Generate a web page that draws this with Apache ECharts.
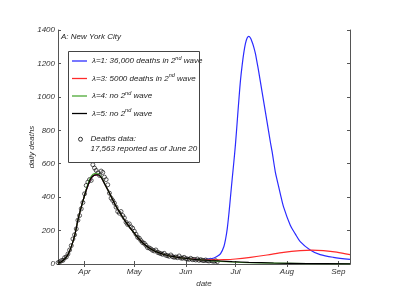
<!DOCTYPE html>
<html>
<head>
<meta charset="utf-8">
<script src="https://cdn.jsdelivr.net/npm/echarts@6/dist/echarts.min.js"></script>
<style>html,body{margin:0;padding:0;background:#fff}#c{width:395px;height:305px}</style>
</head>
<body>
<div id="c"></div>
<script>
// ---- data ----
const obsStart = '2020-03-16';
// daily reported deaths, one value per day from Mar 16 to Jun 20
const observedDeaths = [8,12,20,22,38,42,60,84,110,150,175,210,262,290,330,368,420,470,490,505,500,
  594,574,560,545,530,556,548,520,505,474,424,394,380,364,340,314,304,314,290,276,
  250,236,240,222,214,196,178,160,154,140,128,124,112,98,96,90,82,78,84,70,
  66,62,58,64,52,50,46,54,44,40,42,38,48,36,34,40,32,30,28,34,
  26,28,24,30,22,26,22,20,24,20,18,22,18,16,20,14];
// shared first wave of the model (to Jun 10)
const firstWave = [['2020-03-16',5],['2020-03-18',14],['2020-03-20',30],['2020-03-22',56],['2020-03-24',104],
  ['2020-03-26',168],['2020-03-28',262],['2020-03-30',340],['2020-04-01',410],['2020-04-03',470],
  ['2020-04-05',515],['2020-04-07',532],['2020-04-09',534],['2020-04-11',518],['2020-04-13',482],
  ['2020-04-15',444],['2020-04-17',404],['2020-04-19',364],['2020-04-21',328],['2020-04-23',296],
  ['2020-04-25',264],['2020-04-28',222],['2020-05-01',184],['2020-05-04',148],['2020-05-07',118],
  ['2020-05-10',96],['2020-05-14',74],['2020-05-18',60],['2020-05-22',48],['2020-05-26',42],
  ['2020-05-30',36],['2020-06-04',30],['2020-06-10',25]];
// lambda=4 slightly different first wave peak
const greenPeak = [['2020-04-03',478],['2020-04-05',524],['2020-04-07',541],['2020-04-09',539],['2020-04-11',521]];
const blueWave = [['2020-06-14',28],['2020-06-18',36],['2020-06-20',46],['2020-06-22',62],['2020-06-24',105],
  ['2020-06-25',148],['2020-06-26',210],['2020-06-27',300],['2020-06-28',405],['2020-06-29',510],
  ['2020-06-30',612],['2020-07-01',720],['2020-07-02',850],['2020-07-03',980],['2020-07-04',1100],
  ['2020-07-05',1190],['2020-07-06',1265],['2020-07-07',1320],['2020-07-08',1352],['2020-07-09',1362],
  ['2020-07-10',1352],['2020-07-11',1328],['2020-07-12',1298],['2020-07-13',1258],['2020-07-14',1205],
  ['2020-07-15',1150],['2020-07-17',1030],['2020-07-18',970],['2020-07-20',850],['2020-07-22',730],
  ['2020-07-23',675],['2020-07-25',550],['2020-07-26',505],['2020-07-28',420],['2020-07-30',340],
  ['2020-08-03',232],['2020-08-06',180],['2020-08-09',134],['2020-08-15',84],['2020-08-21',56],
  ['2020-08-29',40],['2020-09-08',28]];
const redWave = [['2020-06-16',25],['2020-06-24',26],['2020-07-01',30],['2020-07-10',40],['2020-07-20',54],
  ['2020-07-30',70],['2020-08-09',80],['2020-08-16',83],['2020-08-23',80],['2020-08-31',71],['2020-09-08',56]];
const blackTail = [['2020-06-16',21],['2020-06-22',18],['2020-06-29',14],['2020-07-09',10],['2020-07-24',6],
  ['2020-08-13',3],['2020-09-08',1]];
const greenTail = [['2020-06-16',20],['2020-06-22',16],['2020-06-29',12],['2020-07-09',8],['2020-07-24',5],
  ['2020-08-13',2],['2020-09-08',1]];
const tickDates = ['2020-04-01','2020-05-01','2020-06-01','2020-07-01','2020-08-01','2020-09-01'];
const tickLabels = ['Apr','May','Jun','Jul','Aug','Sep'];
const xRange = ['2020-03-16','2020-09-08'];

// ---- build ----
const DAY = 86400000;
const t = s => Date.parse(s + 'T00:00:00Z');
const pts = arr => arr.map(p => [t(p[0]), p[1]]);
const obsPts = observedDeaths.map((v, i) => [t(obsStart) + i * DAY, v]);
const greenFirst = firstWave.map(p => { const g = greenPeak.find(q => q[0] === p[0]); return g ? g : p; });
const tickVals = tickDates.map(t);
const font = 'Liberation Sans, Arial, sans-serif';
const axisCol = '#555';
const txt = '#333';
const lineIcon = 'path://M0,0 L14,0 L14,1.2 L0,1.2 Z';

const chart = echarts.init(document.getElementById('c'), null, {renderer: 'canvas'});
const sup = (a, b) => '{t|' + a + '}{s|nd}{t|' + b + '}';
const baseX = {
  type: 'value', min: t(xRange[0]), max: t(xRange[1]),
  splitLine: {show: false},
  axisLine: {show: true, lineStyle: {color: axisCol, width: 1}},
  axisTick: {show: true, inside: true, length: 3, customValues: tickVals, lineStyle: {color: axisCol}},
};
const baseY = {
  type: 'value', min: 0, max: 1400, interval: 200,
  splitLine: {show: false},
  axisLine: {show: true, lineStyle: {color: axisCol, width: 1}},
  axisTick: {show: true, inside: true, length: 3, lineStyle: {color: axisCol}},
};
chart.setOption({
  animation: false,
  backgroundColor: '#fff',
  textStyle: {fontFamily: font},
  title: {text: 'A: New York City', left: 61, top: 33, padding: 0,
    textStyle: {fontSize: 8, fontStyle: 'italic', fontWeight: 'normal', color: '#222', fontFamily: font}},
  grid: {left: 58, right: 45, top: 30, bottom: 41},
  xAxis: [
    Object.assign({}, baseX, {position: 'bottom', name: 'date', nameLocation: 'middle', nameGap: 16,
      nameMoveOverlap: false,
      nameTextStyle: {fontSize: 8, fontStyle: 'italic', color: txt, fontFamily: font},
      axisLabel: {show: true, customValues: tickVals, margin: 4, fontSize: 8, fontStyle: 'italic', color: txt,
        fontFamily: font, formatter: v => tickLabels[tickVals.indexOf(v)] || ''}}),
    Object.assign({}, baseX, {position: 'top', axisLabel: {show: false}})
  ],
  yAxis: [
    Object.assign({}, baseY, {position: 'left', name: 'daily deaths', nameLocation: 'middle', nameGap: 22,
      nameMoveOverlap: false,
      nameTextStyle: {fontSize: 8, fontStyle: 'italic', color: txt, fontFamily: font},
      axisLabel: {show: true, margin: 3, fontSize: 8, fontStyle: 'italic', color: txt, fontFamily: font,
        formatter: v => String(v)}}),
    Object.assign({}, baseY, {position: 'right', axisLabel: {show: false}})
  ],
  legend: [
    {orient: 'vertical', left: 72, top: 55, padding: 0, itemWidth: 15, itemHeight: 12, itemGap: 7.5,
      selectedMode: false,
      data: [{name: 'l1', icon: lineIcon}, {name: 'l3', icon: lineIcon}, {name: 'l4', icon: lineIcon}, {name: 'l5', icon: lineIcon}],
      formatter: n => ({l1: sup('λ=1: 36,000 deaths in 2', ' wave'), l3: sup('λ=3: 5000 deaths in 2', ' wave'),
        l4: sup('λ=4: no 2', ' wave'), l5: sup('λ=5: no 2', ' wave')})[n],
      textStyle: {rich: {
        t: {fontSize: 8, fontStyle: 'italic', color: '#222', lineHeight: 12, fontFamily: font},
        s: {fontSize: 5.5, fontStyle: 'italic', color: '#222', verticalAlign: 'top', lineHeight: 12, fontFamily: font}
      }}},
    {orient: 'vertical', left: 78, top: 125, padding: 0, itemWidth: 4, itemHeight: 4, selectedMode: false,
      data: [{name: 'obs', icon: 'circle'}],
      itemStyle: {color: 'rgba(255,255,255,0)', borderColor: '#000', borderWidth: 1},
      formatter: () => '\nDeaths data:\n17,563 reported as of June 20',
      textStyle: {fontSize: 8, fontStyle: 'italic', color: '#222', lineHeight: 9.5, fontFamily: font, padding: [0, 0, 0, 3]}}
  ],
  graphic: [{type: 'rect', left: 66, top: 49, shape: {width: 131, height: 111},
    style: {fill: 'none', stroke: '#444', lineWidth: 1}, z: 10}],
  series: [
    {name: 'l1', type: 'line', symbol: 'none', smooth: 0.3, data: pts(firstWave.concat(blueWave)),
      lineStyle: {color: '#2b2bff', width: 1.2}, itemStyle: {color: '#2b2bff'}},
    {name: 'l3', type: 'line', symbol: 'none', smooth: 0.3, data: pts(firstWave.concat(redWave)),
      lineStyle: {color: '#ff2a2a', width: 1.2}, itemStyle: {color: '#ff2a2a'}},
    {name: 'l4', type: 'line', symbol: 'none', smooth: 0.3, data: pts(greenFirst.concat(greenTail)),
      lineStyle: {color: '#4aa832', width: 1.2}, itemStyle: {color: '#4aa832'}},
    {name: 'l5', type: 'line', symbol: 'none', smooth: 0.3, data: pts(firstWave.concat(blackTail)),
      lineStyle: {color: '#000', width: 1.2}, itemStyle: {color: '#000'}},
    {name: 'obs', type: 'scatter', symbol: 'circle', symbolSize: 4, data: obsPts,
      itemStyle: {color: 'rgba(255,255,255,0)', borderColor: '#000', borderWidth: 0.8}}
  ]
});
</script>
</body>
</html>
